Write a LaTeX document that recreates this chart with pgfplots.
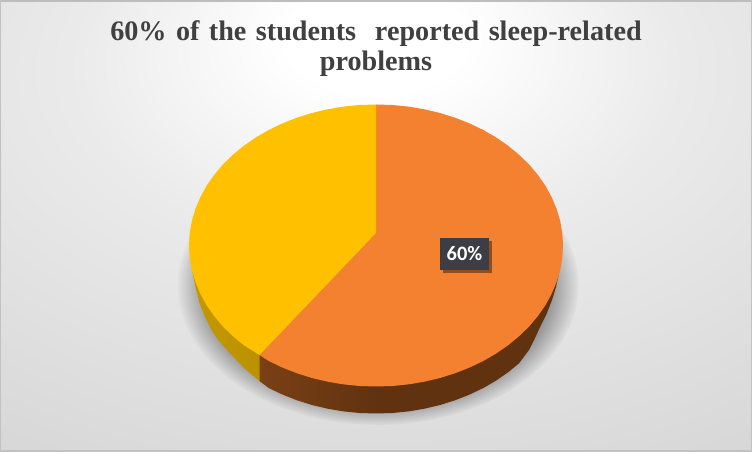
\documentclass[border=0pt]{standalone}
\usepackage{fontspec}
\setmainfont{Liberation Serif}
\newfontfamily\labelfont{Carlito}
\usepackage{pgfplots}
\usepackage{pgfplotstable}
\pgfplotsset{compat=1.18}
\usetikzlibrary{fadings,shadows}

\definecolor{titlegrey}{HTML}{404040}
\definecolor{pieorange}{HTML}{F4812F}
\definecolor{pieyellow}{HTML}{FFC000}
\definecolor{labelbox}{HTML}{3D3D45}
\definecolor{sideA}{HTML}{A2562A}
\definecolor{sideB}{HTML}{7A4016}
\definecolor{sideC}{HTML}{60320F}
\definecolor{sideD}{HTML}{5F3110}
\definecolor{sideE}{HTML}{C89B00}
\definecolor{sideF}{HTML}{B88E00}
\pgfdeclareradialshading{chartbg}{\pgfpoint{0bp}{22bp}}{
  color(0bp)=(white); color(6bp)=(white);
  color(20bp)=(white!92!black); color(36bp)=(white!87!black);
  color(52bp)=(white!82!black); color(100bp)=(white!79!black)}
\pgfdeclarehorizontalshading{sideorange}{100bp}{
  color(0bp)=(sideA); color(25bp)=(sideB); color(45bp)=(sideC); color(100bp)=(sideD)}
\pgfdeclarehorizontalshading{sideyellow}{100bp}{
  color(0bp)=(sideE); color(100bp)=(sideF)}

% pie outline in picture pixels, y counted from the top
\pgfplotstableread{
x y
376 233
376 104.5
392.3 105.0
408.5 106.6
424.4 109.3
440.0 113.0
455.0 117.7
469.5 123.4
483.3 130.0
496.2 137.5
508.2 145.8
519.2 154.9
529.2 164.6
537.9 175.0
545.5 185.9
551.7 197.3
556.6 209.0
560.2 221.0
562.3 233.2
563 245.5
562.3 257.8
560.2 270.0
556.6 282.0
551.7 293.7
545.5 305.1
537.9 316.0
529.2 326.4
519.2 336.1
508.2 345.2
496.2 353.5
483.3 361.0
469.5 367.6
455.0 373.3
440.0 378.0
424.4 381.7
408.5 384.4
392.3 386.0
376 386.5
359.7 386.0
343.5 384.4
327.6 381.7
312.0 378.0
297.0 373.3
282.5 367.6
268.7 361.0
259.5 355
}\orangetop

\pgfplotstableread{
x y
376 233
259.5 355
243.8 345.2
232.8 336.1
222.8 326.4
214.1 316.0
206.5 305.1
200.3 293.7
195.4 282.0
191.8 270.0
189.7 257.8
189 245.5
189.7 233.2
191.8 221.0
195.4 209.0
200.3 197.3
206.5 185.9
214.1 175.0
222.8 164.6
232.8 154.9
243.8 145.8
255.8 137.5
268.7 130.0
282.5 123.4
297.0 117.7
312.0 113.0
327.6 109.3
343.5 106.6
359.7 105.0
376 104.5
}\yellowtop

% rim under the top face, read off the lower edge
\pgfplotstableread{
x y
559 265
559 273
556 287
552 300
546.5 314
540 327
535 338
529 350
519.2 363.1
508.2 372.2
496.2 380.5
483.3 388.0
469.5 394.6
455.0 400.3
440.0 405.0
424.4 408.7
408.5 411.4
392.3 413.0
376 413.5
359.7 413.0
343.5 411.4
327.6 408.7
312.0 405.0
297.0 400.3
282.5 394.6
268.7 388.0
259.5 381
259.5 355
}\orangeside

\pgfplotstableread{
x y
259.5 355
259.5 381
243 367
228 351
220 342
212 331
205 317
199.5 303
195.5 287
192 270
192 262
}\yellowside

\begin{document}
\begin{tikzpicture}
% background and soft shadow, behind the axis
\begin{scope}[x=1bp,y=1bp]
  \shade[shading=chartbg] (0,0) rectangle (752,452);
  \fill[white!74!black] (0,449.5) rectangle (752,452);
  \fill[white!76!black] (0,0) rectangle (752,1.5);
  \fill[white!76!black] (0,0) rectangle (1.5,452);
  \fill[white!76!black] (750.5,0) rectangle (752,452);
  \fill[black,opacity=.36,path fading=circle with fuzzy edge 15 percent]
    (378,167) ellipse [x radius=201, y radius=140];
\end{scope}
\begin{axis}[
    scale only axis,
    width=752bp, height=452bp,
    xmin=0, xmax=752,
    ymin=0, ymax=452,
    y dir=reverse,
    hide axis,
    clip=false,
]
\addplot[shading=sideorange, draw=none] table {\orangeside} -- cycle;
\addplot[shading=sideyellow, draw=none] table {\yellowside} -- cycle;
\addplot[fill=pieorange, draw=none] table {\orangetop} -- cycle;
\addplot[fill=pieyellow, draw=none] table {\yellowtop} -- cycle;
\addplot[draw=none, mark=none,
    nodes near coords={\labelfont\bfseries 60\%},
    nodes near coords style={anchor=center, text=white, fill=labelbox, font=\fontsize{20.5}{24}\selectfont,
      minimum width=49bp, minimum height=32bp, inner sep=0pt,
      drop shadow={shadow xshift=3bp, shadow yshift=-3bp, fill=black, opacity=.4}},
] coordinates {(464.5,254)};
\node[align=center, text=titlegrey, font=\fontsize{28.3}{30}\selectfont\bfseries, text width=700bp, inner sep=0pt]
    at (axis cs:376,49) {60\% of the students\ \ reported sleep-related\\ problems};
\end{axis}
\end{tikzpicture}
\end{document}
